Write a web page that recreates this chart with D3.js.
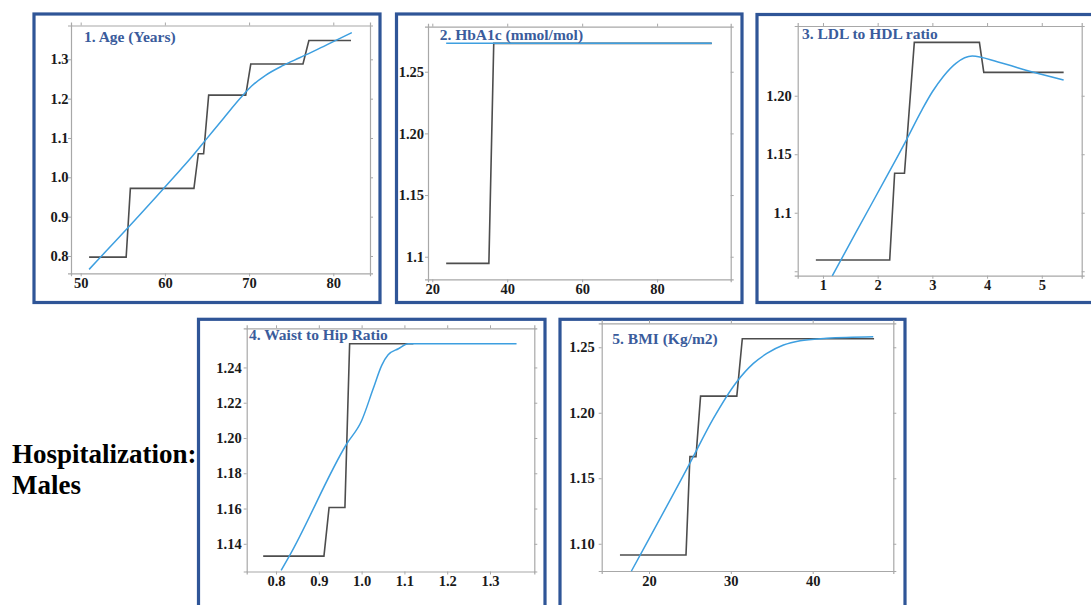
<!DOCTYPE html>
<html>
<head>
<meta charset="utf-8">
<script src="https://d3js.org/d3.v7.min.js"></script>
<style>
  body { margin: 0; background: #fff; }
  svg { display: block; font-family: 'Liberation Serif', 'Times New Roman', serif; }
</style>
</head>
<body>
<div id="chart"></div>
<script>
// ---- data ----
const titles = ["1. Age (Years)", "2. HbA1c (mmol/mol)", "3. LDL to HDL ratio", "4. Waist to Hip Ratio", "5. BMI (Kg/m2)"];

// step (dark) lines
const ageStepX = [51.0, 55.4, 55.9, 63.45, 63.97, 64.6, 65.2, 69.6, 70.2, 76.4, 77.1, 82.1];
const ageStepY = [0.797, 0.797, 0.972, 0.972, 1.06, 1.06, 1.209, 1.209, 1.288, 1.288, 1.348, 1.348];
const hbaStepX = [23.7, 35.1, 36.4, 94.6];
const hbaStepY = [1.0946, 1.0946, 1.273, 1.273];
const ldlStepX = [0.87, 2.22, 2.31, 2.49, 2.67, 3.86, 3.94, 5.40];
const ldlStepY = [1.0596, 1.0596, 1.1337, 1.1337, 1.2456, 1.2456, 1.220, 1.220];
const whrStepX = [0.77, 0.912, 0.924, 0.961, 0.972, 1.121];
const whrStepY = [1.133, 1.133, 1.1606, 1.1606, 1.2534, 1.2534];
const bmiStepX = [16.45, 24.52, 25.0, 25.74, 26.3, 30.73, 31.4, 47.5];
const bmiStepY = [1.0914, 1.0914, 1.1665, 1.1665, 1.2127, 1.2127, 1.2565, 1.2565];

// smooth (blue) lines
const ageFitX = [51, 53, 55, 57, 59, 61, 63, 65, 67, 69, 70.3, 72, 74, 76, 78, 80, 82.2];
const ageFitY = [0.766, 0.812, 0.858, 0.904, 0.951, 0.999, 1.047, 1.099, 1.151, 1.202, 1.232, 1.26, 1.284, 1.304, 1.324, 1.345, 1.368];
const hbaFitX = [23.7, 94.6];
const hbaFitY = [1.273, 1.273];
const ldlFitX = [1.17, 1.6, 2.2, 2.5, 2.81, 3.0, 3.2, 3.43, 3.73, 4.2, 4.85, 5.40];
const ldlFitY = [1.046, 1.083, 1.134, 1.16, 1.188, 1.2034, 1.2165, 1.2277, 1.2339, 1.2288, 1.220, 1.2134];
const whrFitX = [0.812, 0.831, 0.965, 1.0, 1.027, 1.047, 1.062, 1.086, 1.109, 1.362];
const whrFitY = [1.125, 1.133, 1.1966, 1.2098, 1.2279, 1.2412, 1.2472, 1.2506, 1.2534, 1.2534];
const bmiFitX = [17.84, 25.0, 27.87, 30.73, 32.76, 34.4, 36.43, 38.47, 41.7, 47.4];
const bmiFitY = [1.079, 1.1616, 1.1957, 1.2237, 1.2377, 1.2453, 1.2517, 1.255, 1.2568, 1.258];

// axes
const xTicks = [[50, 60, 70, 80], [20, 40, 60, 80], [1, 2, 3, 4, 5], [0.8, 0.9, 1.0, 1.1, 1.2, 1.3], [20, 30, 40]];
const xTickLabels = [["50", "60", "70", "80"], ["20", "40", "60", "80"], ["1", "2", "3", "4", "5"],
  ["0.8", "0.9", "1.0", "1.1", "1.2", "1.3"], ["20", "30", "40"]];
const yTicks = [[0.8, 0.9, 1.0, 1.1, 1.2, 1.3], [1.1, 1.15, 1.2, 1.25], [1.05, 1.1, 1.15, 1.2],
  [1.14, 1.16, 1.18, 1.2, 1.22, 1.24], [1.1, 1.15, 1.2, 1.25]];
const yTickLabels = [["0.8", "0.9", "1.0", "1.1", "1.2", "1.3"], ["1.1", "1.15", "1.20", "1.25"], ["", "1.1", "1.15", "1.20"],
  ["1.14", "1.16", "1.18", "1.20", "1.22", "1.24"], ["1.10", "1.15", "1.20", "1.25"]];
const xDomains = [[48.85, 84.36], [18.85, 99.65], [0.538, 5.73], [0.7315, 1.4035], [14.22, 49.85]];
const yDomains = [[0.756, 1.386], [1.0817, 1.2865], [1.0462, 1.2596], [1.1243, 1.2622], [1.0792, 1.2683]];

const stepX = [ageStepX, hbaStepX, ldlStepX, whrStepX, bmiStepX];
const stepY = [ageStepY, hbaStepY, ldlStepY, whrStepY, bmiStepY];
const fitX = [ageFitX, hbaFitX, ldlFitX, whrFitX, bmiFitX];
const fitY = [ageFitY, hbaFitY, ldlFitY, whrFitY, bmiFitY];

// ---- layout ----
const W = 1091, H = 605;
const boxes = [
  {x0: 34, y0: 14, x1: 380, y1: 302.5},
  {x0: 396.5, y0: 14, x1: 742, y1: 302.5},
  {x0: 757, y0: 14.5, x1: 1095, y1: 302.5},
  {x0: 198.5, y0: 319.3, x1: 545, y1: 620},
  {x0: 560, y0: 319.3, x1: 905, y1: 620}
];
const frames = [
  {l: 71, r: 370, t: 25.5, b: 273.3, gap: 2.5, tx: 13, ty: 16},
  {l: 428, r: 730.7, t: 26.7, b: 279.3, gap: 4, tx: 11.7, ty: 13.3},
  {l: 797.7, r: 1081.7, t: 26, b: 275.7, gap: 6, tx: 4.3, ty: 13.3},
  {l: 246.7, r: 534.3, t: 328.3, b: 571.5, gap: 5, tx: 2.3, ty: 11.7},
  {l: 601.7, r: 893.3, t: 323.3, b: 571, gap: 7, tx: 10.6, ty: 21}
];

const svg = d3.select("#chart").append("svg")
    .attr("width", W).attr("height", H);

svg.append("rect").attr("width", W).attr("height", H).attr("fill", "#fff");

frames.forEach((f, i) => {
  const bx = boxes[i];
  svg.append("rect")
      .attr("x", bx.x0).attr("y", bx.y0)
      .attr("width", bx.x1 - bx.x0).attr("height", bx.y1 - bx.y0)
      .attr("fill", "#fff")
      .attr("stroke", "#2f5597")
      .attr("stroke-width", 3.2);

  const x = d3.scaleLinear().domain(xDomains[i]).range([f.l, f.r]);
  const y = d3.scaleLinear().domain(yDomains[i]).range([f.b, f.t]);
  const g = svg.append("g");

  // frame with ticks on all sides
  const axisStyle = sel => {
    sel.select(".domain").attr("stroke", "#a8a8a8").attr("stroke-width", 1.2);
    sel.selectAll(".tick line").attr("stroke", "#a8a8a8").attr("stroke-width", 1);
    sel.selectAll("text").attr("fill", "#1a1a1a").attr("font-size", "14.5px").attr("font-weight", "bold")
      .attr("font-family", "'Liberation Serif', 'Times New Roman', serif");
  };
  g.append("g").attr("transform", `translate(0,${f.b})`)
    .call(d3.axisBottom(x).tickValues(xTicks[i]).tickSizeOuter(0).tickSize(3).tickPadding(2)
      .tickFormat((d, k) => xTickLabels[i][k]))
    .call(axisStyle)
    .call(s => s.selectAll("text").attr("dy", null).attr("y", 14.5));
  g.append("g").attr("transform", `translate(0,${f.t})`)
    .call(d3.axisTop(x).tickValues(xTicks[i]).tickSizeOuter(0).tickSize(3).tickFormat(""))
    .call(axisStyle);
  g.append("g").attr("transform", `translate(${f.l},0)`)
    .call(d3.axisLeft(y).tickValues(yTicks[i]).tickSizeOuter(0).tickSize(3).tickPadding(f.gap - 3)
      .tickFormat((d, k) => yTickLabels[i][k]))
    .call(axisStyle)
    .call(s => s.selectAll("text").attr("x", -f.gap));
  g.append("g").attr("transform", `translate(${f.r},0)`)
    .call(d3.axisRight(y).tickValues(yTicks[i]).tickSizeOuter(0).tickSize(3).tickFormat(""))
    .call(axisStyle);

  const stepPts = stepX[i].map((v, k) => [v, stepY[i][k]]);
  const fitPts = fitX[i].map((v, k) => [v, fitY[i][k]]);

  g.append("path")
      .datum(stepPts)
      .attr("fill", "none")
      .attr("stroke", "#4d4d4d")
      .attr("stroke-width", 1.6)
      .attr("d", d3.line().x(d => x(d[0])).y(d => y(d[1])));

  g.append("path")
      .datum(fitPts)
      .attr("fill", "none")
      .attr("stroke", "#3d9fe0")
      .attr("stroke-width", 1.5)
      .attr("d", d3.line().curve(d3.curveMonotoneX).x(d => x(d[0])).y(d => y(d[1])));

  g.append("text")
      .attr("x", f.l + f.tx).attr("y", f.t + f.ty)
      .attr("fill", "#3a5c9c")
      .attr("font-size", "15.5px")
      .attr("font-weight", "bold")
      .text(titles[i]);
});

svg.append("text")
    .attr("x", 12).attr("y", 463)
    .attr("font-size", "27px").attr("font-weight", "bold").attr("fill", "#000")
    .text("Hospitalization:");
svg.append("text")
    .attr("x", 12).attr("y", 494)
    .attr("font-size", "27px").attr("font-weight", "bold").attr("fill", "#000")
    .text("Males");
</script>
</body>
</html>
